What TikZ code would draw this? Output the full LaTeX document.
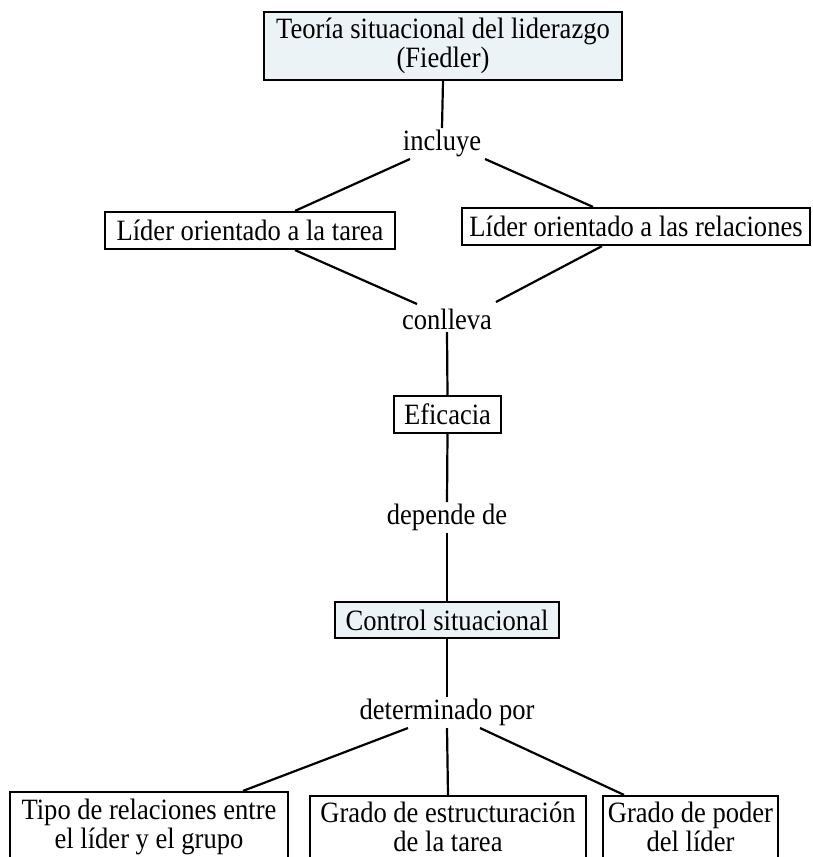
\documentclass[tikz,border=0pt]{standalone}
\usepackage{fontspec}
\setmainfont{Liberation Serif}[FakeStretch=0.9]
\usetikzlibrary{calc}
\definecolor{boxfill}{RGB}{236,243,246}
\tikzset{
  every node/.style={font=\fontsize{29.5}{28.5}\selectfont, inner sep=0pt},
  lbl/.style={},
  cbox/.style={draw=black, line width=2.2pt, fill=white, align=center},
  fbox/.style={cbox, fill=boxfill},
  conn/.style={draw=black, line width=2.2pt}
}
\begin{document}
\begin{tikzpicture}[x=1pt,y=1pt]
\clip (0,0) rectangle (812,-857);
\fill[white] (0,0) rectangle (812,-857);

\node[fbox, minimum width=358, minimum height=68] (T) at (443,-46) {Teoría situacional del liderazgo\\(Fiedler)};
\node[lbl] (inc) at (442,-143) {incluye};
\node[cbox, minimum width=290, minimum height=37] (lt) at (250,-230.5) {Líder orientado a la tarea};
\node[cbox, minimum width=348, minimum height=37] (rt) at (636,-226.5) {Líder orientado a las relaciones};
\node[lbl] (cl) at (447,-319) {conlleva};
\node[cbox, minimum width=107, minimum height=37] (ef) at (447.5,-414.5) {Eficacia};
\node[lbl] (dep) at (447,-517) {depende de};
\node[fbox, minimum width=224, minimum height=36] (ctl) at (447,-620) {Control situacional};
\node[lbl] (det) at (447,-712) {determinado por};
\node[cbox, minimum width=278, minimum height=70] (b1) at (149,-827) {Tipo de relaciones entre\\el líder y el grupo};
\node[cbox, minimum width=276, minimum height=62] (b2) at (448,-827) {Grado de estructuración\\de la tarea};
\node[cbox, minimum width=175, minimum height=62] (b3) at (690.5,-827) {Grado de poder\\del líder};

\draw[conn] (T.south) -- ($(inc)+(0,15)$);
\draw[conn] ($(inc)+(-32,-16)$) -- ($(lt.north)+(45,0)$);
\draw[conn] ($(inc)+(43,-16)$) -- ($(rt.north)+(-43,0)$);
\draw[conn] ($(lt.south)+(45,0)$) -- ($(cl)+(-30,15)$);
\draw[conn] ($(rt.south)+(-34,0)$) -- ($(cl)+(49,17)$);
\draw[conn] ($(cl)+(0,-13)$) -- (ef.north);
\draw[conn] (ef.south) -- ($(dep)+(0,15)$);
\draw[conn] ($(dep)+(0,-16)$) -- (ctl.north);
\draw[conn] (ctl.south) -- ($(det)+(0,15)$);
\draw[conn] ($(det)+(-39,-16)$) -- ($(b1.north)+(94,0)$);
\draw[conn] ($(det)+(0,-16)$) -- (b2.north);
\draw[conn] ($(det)+(33,-16)$) -- ($(b3.north)+(-66.5,0)$);
\end{tikzpicture}
\end{document}
